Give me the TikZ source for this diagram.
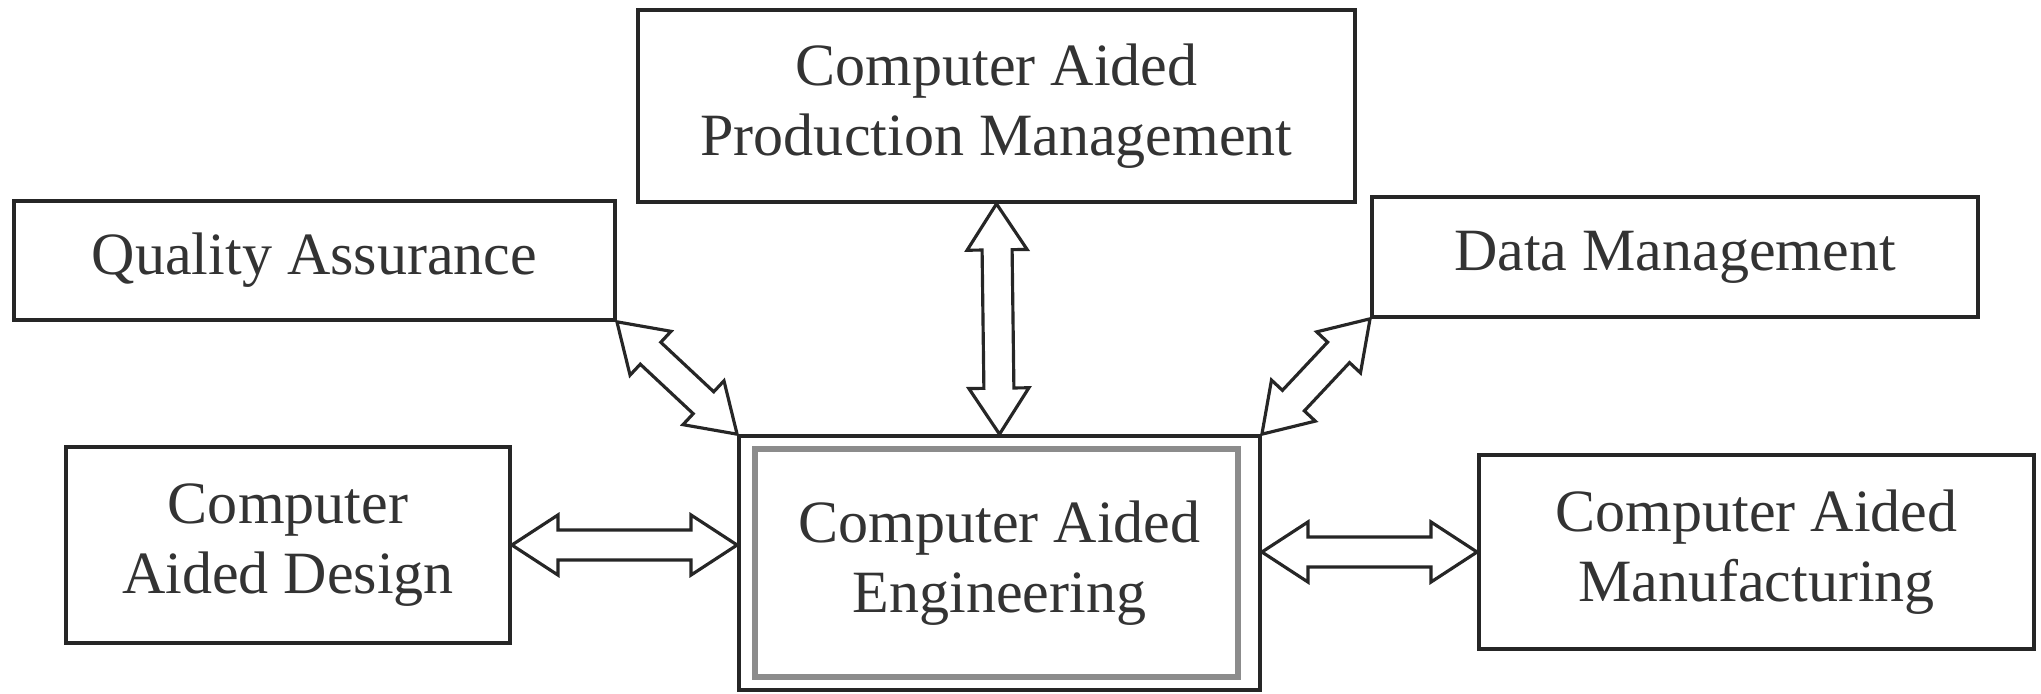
\documentclass[tikz,border=0pt]{standalone}
\usepackage{fontspec}
\setmainfont{Liberation Serif}
\usetikzlibrary{calc}

\tikzset{
  box/.style={draw=black!85, line width=1pt, text=black!80, align=center,
    inner sep=0pt, font=\fontsize{17.07}{19.9}\selectfont},
  innerframe/.style={draw=black!45, line width=1.6pt},
  % hollow double-headed block arrow from the start point to the target point
  biarrow/.style={draw=black!85, line width=0.9pt, fill=white, line join=miter,
    to path={
      let \p1=($(\tikztostart)!0.46cm!(\tikztotarget)$),
          \p2=($(\tikztotarget)!0.46cm!(\tikztostart)$)
      in -- ($(\p1)!0.30cm!90:(\tikztotarget)$)
         -- ($(\p1)!0.15cm!90:(\tikztotarget)$)
         -- ($(\p2)!0.15cm!-90:(\tikztostart)$)
         -- ($(\p2)!0.30cm!-90:(\tikztostart)$)
         -- (\tikztotarget)
         -- ($(\p2)!0.30cm!90:(\tikztostart)$)
         -- ($(\p2)!0.15cm!90:(\tikztostart)$)
         -- ($(\p1)!0.15cm!-90:(\tikztotarget)$)
         -- ($(\p1)!0.30cm!-90:(\tikztotarget)$)
         -- cycle}}
}

\begin{document}
\begin{tikzpicture}[x=0.01cm, y=-0.01cm]
  \useasboundingbox (0,0) rectangle (2041,693);

  % boxes
  \node[box, minimum width=7.17cm, minimum height=1.92cm] (capm) at (996.5,106)
    {Computer Aided\\Production Management};
  \node[box, minimum width=6.01cm, minimum height=1.19cm] (qa) at (314.5,260.5)
    {Quality Assurance};
  \node[box, minimum width=6.06cm, minimum height=1.20cm] (dm) at (1675,257)
    {Data Management};
  \node[box, minimum width=4.44cm, minimum height=1.96cm] (cad) at (288,545)
    {Computer\\Aided Design};
  \node[box, minimum width=5.21cm, minimum height=2.54cm] (cae) at (999.5,563)
    {Computer Aided\\Engineering};
  \node[box, minimum width=5.55cm, minimum height=1.94cm] (cam) at (1756.5,552)
    {Computer Aided\\Manufacturing};

  % inner frame of the central box
  \draw[innerframe] ([shift={(18,15)}]cae.north west)
    rectangle ([shift={(-24,-15)}]cae.south east);

  % connector end points on the central box
  \coordinate (caeL) at (cad.east -| cae.west);
  \coordinate (caeR) at (cam.west -| cae.east);

  % connectors
  \draw[biarrow] (capm.south) to (cae.north);
  \draw[biarrow] (qa.south east) to (cae.north west);
  \draw[biarrow] (dm.south west) to (cae.north east);
  \draw[biarrow] (cad.east) to (caeL);
  \draw[biarrow] (caeR) to (cam.west);
\end{tikzpicture}
\end{document}
